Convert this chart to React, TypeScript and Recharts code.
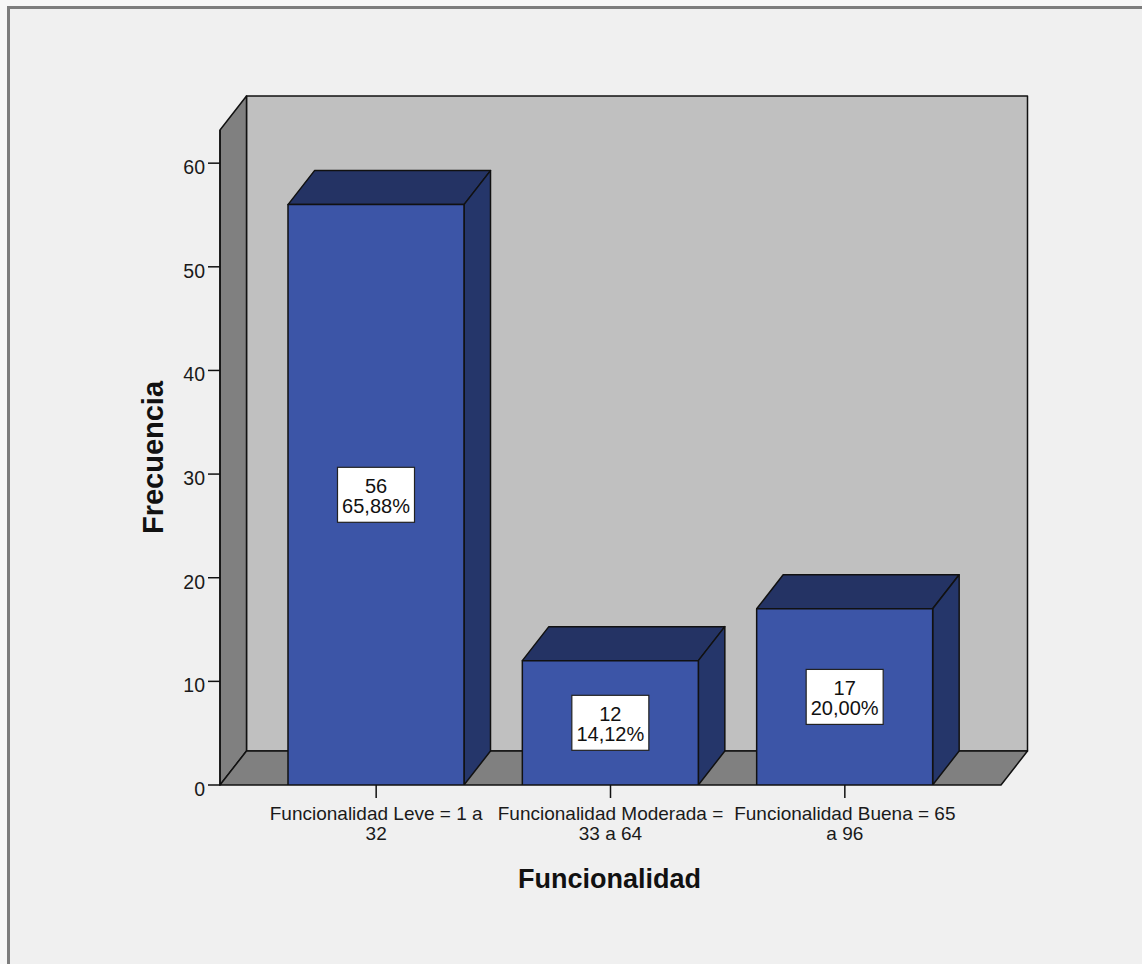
import React from 'react';
import { BarChart, Bar, XAxis, YAxis, ReferenceArea, LabelList } from 'recharts';

const categories = [
  'Funcionalidad Leve = 1 a 32',
  'Funcionalidad Moderada = 33 a 64',
  'Funcionalidad Buena = 65 a 96',
];
const frequencies = [56, 12, 17];
const percentLabels = ['65,88%', '14,12%', '20,00%'];
// the category labels wrap onto two lines in the original
const tickLines = [
  ['Funcionalidad Leve = 1 a', '32'],
  ['Funcionalidad Moderada =', '33 a 64'],
  ['Funcionalidad Buena = 65', 'a 96'],
];
const yTicks = [0, 10, 20, 30, 40, 50, 60];
const Y_MAX = 63.2;

const data = categories.map((name, i) => ({ name, value: frequencies[i] }));

// depth of the 3D effect and band padding
const DX = 26.5;
const DY = 34;
const PAD = 39;
const FONT = "'Liberation Sans', Arial, sans-serif";
const EDGE = '#111';

const Walls = (props: any) => {
  const { x, y, width, height } = props;
  const L = x - PAD;
  const R = x + width + PAD;
  const T = y;
  const B = y + height;
  return (
    <g stroke={EDGE} strokeWidth={1.5} strokeLinejoin="round">
      <rect x={L + DX} y={T - DY} width={R - L} height={B - T} fill="#c0c0c0" />
      <polygon points={`${L},${T} ${L + DX},${T - DY} ${L + DX},${B - DY} ${L},${B}`} fill="#808080" />
      <polygon points={`${L},${B} ${L + DX},${B - DY} ${R + DX},${B - DY} ${R},${B}`} fill="#808080" />
    </g>
  );
};

const Bar3D = (props: any) => {
  const { x, y, width, height } = props;
  const r = x + width;
  const b = y + height;
  return (
    <g stroke={EDGE} strokeWidth={1.5} strokeLinejoin="round">
      <polygon points={`${x},${y} ${x + DX},${y - DY} ${r + DX},${y - DY} ${r},${y}`} fill="#243364" />
      <polygon points={`${r},${y} ${r + DX},${y - DY} ${r + DX},${b - DY} ${r},${b}`} fill="#25366a" />
      <rect x={x} y={y} width={width} height={height} fill="#3c55a7" />
    </g>
  );
};

const ValueBox = (props: any) => {
  const { x, y, width, height, index, value } = props;
  const cx = x + width / 2;
  const cy = y + height / 2;
  const w = 77;
  const h = 55;
  return (
    <g fontFamily={FONT} fontSize={20} fill="#111">
      <rect x={cx - w / 2} y={cy - h / 2} width={w} height={h} fill="#fff" stroke="#222" strokeWidth={1.2} />
      <text x={cx} y={cy - h / 2 + 26} textAnchor="middle">{value}</text>
      <text x={cx} y={cy - h / 2 + 46} textAnchor="middle">{percentLabels[index]}</text>
    </g>
  );
};

const YTick = ({ x, y, payload }: any) => (
  <text x={x} y={y + 11} textAnchor="end" fontSize={19.5} fontFamily={FONT} fill="#1a1a1a">
    {payload.value}
  </text>
);

const XTick = ({ x, y, payload }: any) => {
  const lines = tickLines[categories.indexOf(payload.value)] || [payload.value];
  return (
    <text textAnchor="middle" fontSize={19} fontFamily={FONT} fill="#1a1a1a">
      {lines.map((l, i) => (
        <tspan key={i} x={x} y={y + 20 + i * 20}>{l}</tspan>
      ))}
    </text>
  );
};

const YTitle = ({ viewBox }: any) => {
  const tx = viewBox.x + 23;
  const ty = viewBox.y + viewBox.height / 2;
  return (
    <text x={tx} y={ty} transform={`rotate(-90, ${tx}, ${ty})`} textAnchor="middle"
      fontSize={29} fontWeight="bold" fontFamily={FONT} fill="#111">
      Frecuencia
    </text>
  );
};

const XTitle = ({ viewBox }: any) => (
  <text x={viewBox.x + viewBox.width / 2 - 1} y={viewBox.y + 103} textAnchor="middle"
    fontSize={27} fontWeight="bold" fontFamily={FONT} fill="#111">
    Funcionalidad
  </text>
);

export default function App() {
  return (
    <div style={{ position: 'fixed', left: 0, top: 0, width: 1142, height: 964, overflow: 'hidden', background: '#f7f7f7' }}>
      <div style={{ position: 'absolute', left: 7, top: 6, width: 1200, height: 1000, borderTop: '3px solid #7d7d7d', borderLeft: '3px solid #7d7d7d', background: '#f0f0f0' }} />
      <div style={{ position: 'absolute', left: 0, top: 0 }}>
        <BarChart width={1142} height={964} data={data}
          margin={{ top: 130, right: 141, bottom: 119, left: 140 }} barSize={176}>
          <ReferenceArea y1={0} y2={Y_MAX} shape={<Walls />} ifOverflow="visible" />
          <XAxis dataKey="name" padding={{ left: PAD, right: PAD }} height={60} interval={0}
            axisLine={false} tickSize={13} stroke={EDGE} tickLine={{ stroke: EDGE, strokeWidth: 1.5 }}
            tick={<XTick />} label={XTitle} />
          <YAxis domain={[0, Y_MAX]} ticks={yTicks} width={80} tickSize={12} tickMargin={3}
            allowDataOverflow stroke={EDGE} axisLine={{ stroke: EDGE, strokeWidth: 1.5 }}
            tickLine={{ stroke: EDGE, strokeWidth: 1.5 }} tick={<YTick />} label={YTitle} />
          <Bar dataKey="value" shape={<Bar3D />} isAnimationActive={false}>
            <LabelList dataKey="value" content={<ValueBox />} />
          </Bar>
        </BarChart>
      </div>
    </div>
  );
}
